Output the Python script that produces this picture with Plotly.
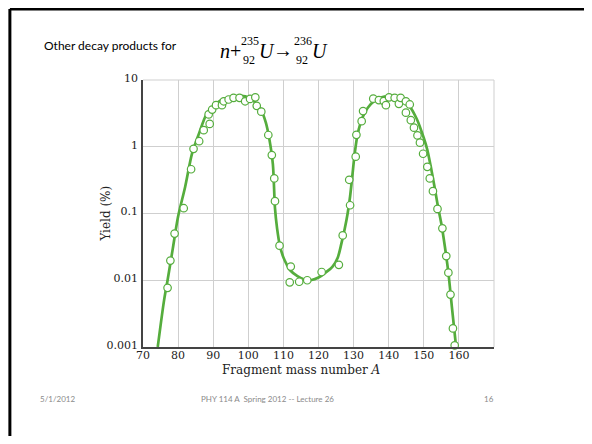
import plotly.graph_objects as go

# ---- data ----
point_A = [77.0, 77.8, 79.0, 81.6, 83.7, 84.4, 86.0, 87.3, 88.7, 89.0, 89.7, 90.8, 92.5, 93.0,
           94.4, 95.8, 97.5, 99.1, 100.5, 102.0, 102.4, 103.7, 105.7, 106.7, 107.4, 107.6,
           108.9, 111.8, 112.1, 114.5, 116.8, 120.9, 125.8, 126.9, 129.0, 128.75, 130.6,
           130.8, 132.3, 132.7, 135.6, 137.2, 138.6, 139.2, 140.1, 141.7, 142.9, 143.4,
           144.9, 146.0, 144.9, 146.3, 147.2, 148.2, 148.9, 149.8, 151.0, 151.7, 152.6,
           153.9, 155.3, 156.4, 157.0, 157.6, 158.3, 158.8]
point_yield = [0.0077, 0.0197, 0.05, 0.12, 0.46, 0.93, 1.21, 1.77, 3.05, 2.2, 3.6, 4.2, 4.2, 4.8,
               5.1, 5.4, 5.4, 4.8, 5.2, 5.5, 4.1, 3.35, 1.5, 0.75, 0.335, 0.153,
               0.033, 0.0093, 0.016, 0.0095, 0.01, 0.0133, 0.017, 0.047, 0.133, 0.32, 0.71,
               1.51, 2.42, 3.42, 5.25, 5.0, 4.83, 4.2, 5.5, 5.4, 4.4, 5.4,
               4.8, 4.3, 3.24, 2.5, 1.93, 1.48, 1.15, 0.785, 0.5, 0.335, 0.216,
               0.117, 0.06, 0.023, 0.013, 0.0061, 0.0019, 0.00106]

curve_A = [74.2, 76.0, 77.0, 78.5, 80.0, 82.0, 84.0, 86.0, 88.0, 90.0, 92.0, 94.0, 96.0, 98.0,
           100.0, 102.0, 103.5, 105.0, 106.0, 107.0, 107.6, 108.2, 109.0, 110.0, 111.0, 112.0,
           114.0, 116.0, 118.0, 120.0, 122.0, 124.0, 125.5, 126.5, 127.5, 128.3, 129.0, 129.6,
           130.2, 131.0, 132.0, 133.0, 134.0, 136.0, 138.0, 140.0, 142.0, 144.0, 146.0, 148.0,
           150.0, 151.0, 152.0, 153.0, 154.0, 155.0, 156.0, 157.0, 158.0, 158.6, 159.2]
curve_yield = [0.001, 0.005, 0.01, 0.03, 0.09, 0.25, 0.8, 1.6, 3.0, 4.0, 4.9, 5.4, 5.7, 5.8,
               5.5, 4.6, 3.7, 2.3, 1.3, 0.55, 0.12, 0.06, 0.033, 0.022, 0.017, 0.014,
               0.0115, 0.0102, 0.0101, 0.011, 0.013, 0.016, 0.022, 0.035, 0.06, 0.1, 0.18, 0.35,
               0.7, 1.4, 2.3, 3.1, 3.8, 4.9, 5.5, 5.8, 5.6, 4.9, 4.0, 2.6,
               1.35, 0.9, 0.5, 0.26, 0.13, 0.07, 0.032, 0.013, 0.004, 0.002, 0.001]

x_ticks = [70, 80, 90, 100, 110, 120, 130, 140, 150, 160, 170]
x_ticktext = ["70", "80", "90", "100", "110", "120", "130", "140", "150", "160", ""]
y_ticks = [0.001, 0.01, 0.1, 1, 10]
y_ticktext = ["0.001", "0.01", "0.1", "1", "10"]

GREEN = "#55ad3d"
SERIF = "DejaVu Serif"

# ---- geometry: the page has an 8px body margin, so work in screen pixels ----
OFF = 8
W, H = 592 - 2 * OFF, 444 - 2 * OFF
L, R, T, B = 142.5 - OFF, 494.5 - OFF, 80 - OFF, 347 - OFF
PW, PH = R - L, B - T


def px(xs):
    return (xs - OFF - L) / PW


def py(ys):
    return (B - (ys - OFF)) / PH


fig = go.Figure()
fig.add_trace(go.Scatter(x=curve_A, y=curve_yield, mode="lines",
                         line=dict(color=GREEN, width=2.7, shape="spline", smoothing=0.8),
                         hoverinfo="skip", showlegend=False))
fig.add_trace(go.Scatter(x=point_A, y=point_yield, mode="markers", cliponaxis=False,
                         marker=dict(symbol="circle", size=7.5, color="white",
                                     line=dict(color=GREEN, width=1.2)),
                         showlegend=False))

fig.update_layout(
    width=W, height=H,
    margin=dict(l=L, r=W - R, t=T, b=H - B, pad=0),
    paper_bgcolor="white", plot_bgcolor="white",
    font=dict(family=SERIF, size=11, color="#222"),
    xaxis=dict(range=[70, 170], tickvals=x_ticks, ticktext=x_ticktext,
               showgrid=True, gridcolor="#cfcfcf", gridwidth=1,
               showline=True, linecolor="#444", linewidth=1.5, ticks="", ticklen=0,
               ticklabelstandoff=-3,
               zeroline=False, tickfont=dict(family=SERIF, size=11, color="#222")),
    yaxis=dict(type="log", range=[-3, 1], tickvals=y_ticks, ticktext=y_ticktext,
               showgrid=True, gridcolor="#cfcfcf", gridwidth=1,
               showline=True, linecolor="#444", linewidth=1.5, ticks="", ticklen=0,
               ticklabelstandoff=1, ticklabelshift=-2,
               zeroline=False, tickfont=dict(family=SERIF, size=11, color="#222")),
)

# top and right frame of plot as light lines
fig.add_shape(type="line", xref="paper", yref="paper", x0=0, x1=1, y0=1, y1=1,
              line=dict(color="#cfcfcf", width=1))
fig.add_shape(type="line", xref="paper", yref="paper", x0=1, x1=1, y0=0, y1=1,
              line=dict(color="#cfcfcf", width=1))

# slide frame (top and left edges)
fig.add_shape(type="line", xref="paper", yref="paper", x0=px(OFF + 1), x1=px(600),
              y0=py(OFF + 1), y1=py(OFF + 1), line=dict(color="black", width=3))
fig.add_shape(type="line", xref="paper", yref="paper", x0=px(OFF + 1), x1=px(OFF + 1),
              y0=py(OFF + 1), y1=py(460), line=dict(color="black", width=3))

# axis titles
fig.add_annotation(xref="paper", yref="paper", x=px(301), y=py(369.5), showarrow=False,
                   text="Fragment mass number <i>A</i>", xanchor="center", yanchor="middle",
                   font=dict(family=SERIF, size=12, color="#222"))
fig.add_annotation(xref="paper", yref="paper", x=px(105), y=py(214), showarrow=False,
                   text="Yield (%)", textangle=-90, xanchor="center", yanchor="middle",
                   font=dict(family=SERIF, size=12, color="#222"))

# slide heading
fig.add_annotation(xref="paper", yref="paper", x=px(41), y=py(46), showarrow=False,
                   text="Other decay products for", xanchor="left", yanchor="middle",
                   font=dict(family="Lato", size=12, color="black"))

# equation pieces
EQ = "Liberation Serif"
big = 20
small = 12
eq_parts = [
    ("<i>n</i>+", 218, 51, big, "left"),
    ("235", 239, 41, small, "left"),
    ("92", 257, 60, small, "right"),
    ("<i>U</i>", 257, 51, big, "left"),
    ("\u2192", 271, 50, big, "left"),
    ("236", 292, 41, small, "left"),
    ("92", 310, 60, small, "right"),
    ("<i>U</i>", 310, 51, big, "left"),
]
for txt, xs, ys, sz, anc in eq_parts:
    fig.add_annotation(xref="paper", yref="paper", x=px(xs), y=py(ys), showarrow=False,
                       text=txt, xanchor=anc, yanchor="middle",
                       font=dict(family=EQ, size=sz, color="black"))

# footer
foot_font = dict(family="Lato", size=8, color="#8a8a8a")
fig.add_annotation(xref="paper", yref="paper", x=px(37), y=py(399), showarrow=False,
                   text="5/1/2012", xanchor="left", yanchor="middle", font=foot_font)
fig.add_annotation(xref="paper", yref="paper", x=px(267), y=py(399), showarrow=False,
                   text="PHY 114 A  Spring 2012 -- Lecture 26", xanchor="center",
                   yanchor="middle", font=foot_font)
fig.add_annotation(xref="paper", yref="paper", x=px(497), y=py(399), showarrow=False,
                   text="16", xanchor="right", yanchor="middle", font=foot_font)

fig.write_html("out.html")
